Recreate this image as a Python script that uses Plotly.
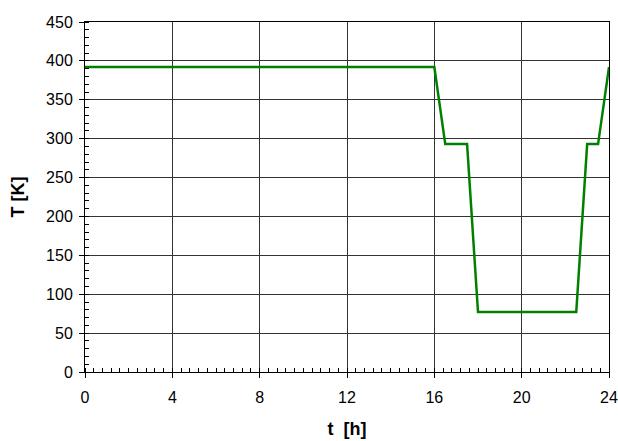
import plotly.graph_objects as go

t_hours = [0, 16, 16.5, 17.5, 18, 22.5, 23, 23.5, 24]
temperature_K = [392, 392, 293, 293, 77, 77, 293, 293, 392]
x_ticks = [0, 4, 8, 12, 16, 20, 24]
y_ticks = [0, 50, 100, 150, 200, 250, 300, 350, 400, 450]

FONT = "Liberation Sans, Arial"

fig = go.Figure()
fig.add_trace(go.Scatter(x=t_hours, y=temperature_K, mode="lines",
                         line=dict(color="#008000", width=2.5), showlegend=False))

axis_common = dict(showline=True, linecolor="black", linewidth=1, mirror=True,
                   showgrid=True, gridcolor="#333333", gridwidth=1,
                   ticks="outside", ticklen=5, tickcolor="black",
                   zeroline=False,
                   tickfont=dict(family=FONT, size=16, color="black"))

fig.update_xaxes(range=[0, 24], tickvals=x_ticks, ticktext=[str(v) for v in x_ticks],
                 minor=dict(dtick=0.4, ticks="inside", ticklen=4, tickcolor="black", showgrid=False),
                 ticklabelstandoff=6, ticklabeloverflow="allow",
                 title=dict(text="<b>t  [h]</b>", font=dict(family=FONT, size=18, color="black"), standoff=17),
                 **axis_common)
fig.update_yaxes(range=[0, 450], tickvals=y_ticks, ticktext=[str(v) for v in y_ticks],
                 minor=dict(dtick=10, ticks="inside", ticklen=4, tickcolor="black", showgrid=False),
                 ticklabelstandoff=3,
                 title=dict(text="<b>T [K]</b>", font=dict(family=FONT, size=18, color="black"), standoff=16),
                 **axis_common)

fig.update_layout(width=618, height=441, margin=dict(l=85, r=9, t=22, b=69, autoexpand=False),
                  plot_bgcolor="white", paper_bgcolor="white")
fig.write_html("out.html", config={"displayModeBar": False},
               post_script="document.body.style.margin='0';document.body.style.overflow='hidden';")
